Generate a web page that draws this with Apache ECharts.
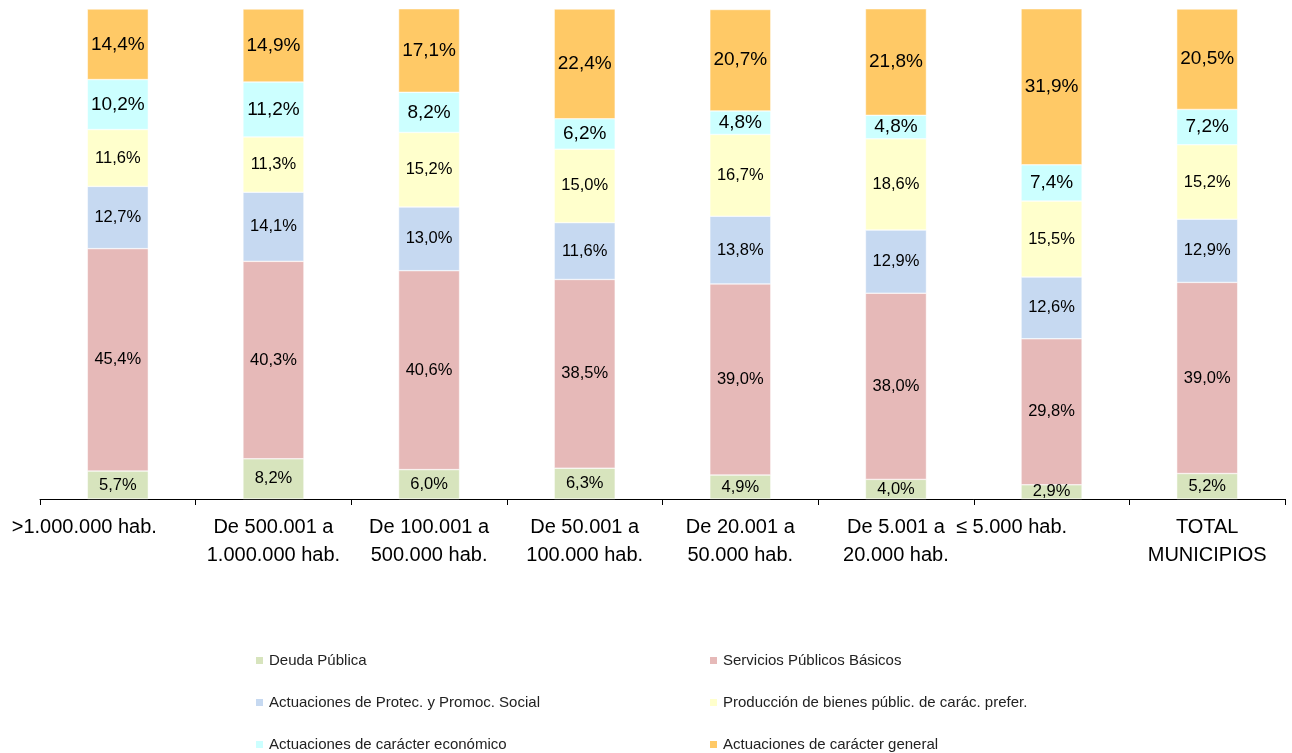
<!DOCTYPE html>
<html>
<head>
<meta charset="utf-8">
<script src="https://cdn.jsdelivr.net/npm/echarts@6/dist/echarts.min.js"></script>
<style>
  html, body { margin: 0; padding: 0; background: #fff; }
  #main { width: 1292px; height: 753px; }
</style>
</head>
<body>
<div id="main"></div>
<script>
var categorias = ['>1.000.000 hab.', 'De 500.001 a\n1.000.000 hab.', 'De 100.001 a\n500.000 hab.', 'De 50.001 a\n100.000 hab.',
    'De 20.001 a\n50.000 hab.', 'De 5.001 a\n20.000 hab.', '≤ 5.000 hab.', 'TOTAL\nMUNICIPIOS'];

var deuda = [5.7, 8.2, 6.0, 6.3, 4.9, 4.0, 2.9, 5.2];
var servicios = [45.4, 40.3, 40.6, 38.5, 39.0, 38.0, 29.8, 39.0];
var protec = [12.7, 14.1, 13.0, 11.6, 13.8, 12.9, 12.6, 12.9];
var produccion = [11.6, 11.3, 15.2, 15.0, 16.7, 18.6, 15.5, 15.2];
var economico = [10.2, 11.2, 8.2, 6.2, 4.8, 4.8, 7.4, 7.2];
var general = [14.4, 14.9, 17.1, 22.4, 20.7, 21.8, 31.9, 20.5];

(function () {
    'use strict';
    var myChart = echarts.init(document.getElementById('main'));

    function pct(p) {
        return p.value.toFixed(1).replace('.', ',') + '%';
    }

    function serie(nombre, datos, color, tam) {
        return {
            name: nombre,
            type: 'bar',
            stack: 'total',
            data: datos,
            barWidth: 61,
            itemStyle: { color: color, borderColor: '#ffffff', borderWidth: 0.5 },
            label: {
                show: true,
                position: 'inside',
                fontSize: tam,
                color: '#000',
                fontFamily: 'Liberation Sans, Arial, sans-serif',
                formatter: pct
            }
        };
    }

    // etiquetas del eje, las dos descentradas como en el original
    var ejeDatos = categorias.map(function (c, i) {
        if (i === 0) return { value: c, textStyle: { padding: [0, 67, 0, 0] } };
        if (i === 6) return { value: c, textStyle: { padding: [0, 80, 0, 0] } };
        return c;
    });

    var leyendaBase = {
        orient: 'vertical',
        top: 653,
        padding: 0,
        itemWidth: 9,
        itemHeight: 9,
        itemGap: 27,
        icon: 'rect',
        selectedMode: false,
        textStyle: { fontSize: 15, color: '#222', fontFamily: 'Liberation Sans, Arial, sans-serif' }
    };

    var option = {
        animation: false,
        grid: { left: 40, right: 7, top: 9, bottom: 254 },
        legend: [
            Object.assign({}, leyendaBase, {
                left: 254,
                data: ['Deuda Pública', 'Actuaciones de Protec. y Promoc. Social', 'Actuaciones de carácter económico']
            }),
            Object.assign({}, leyendaBase, {
                left: 708,
                data: ['Servicios Públicos Básicos', 'Producción de bienes públic. de carác. prefer.', 'Actuaciones de carácter general']
            })
        ],
        xAxis: {
            type: 'category',
            data: ejeDatos,
            axisLine: { lineStyle: { color: '#000', width: 1 } },
            axisTick: { show: true, length: 6, lineStyle: { color: '#000' } },
            axisLabel: {
                interval: 0,
                margin: 14,
                fontSize: 20,
                lineHeight: 28,
                color: '#000',
                fontFamily: 'Liberation Sans, Arial, sans-serif'
            }
        },
        yAxis: {
            type: 'value',
            min: 0,
            max: 100,
            show: false
        },
        series: [
            serie('Deuda Pública', deuda, '#D7E4BD', 16.5),
            serie('Servicios Públicos Básicos', servicios, '#E6B9B8', 16.5),
            serie('Actuaciones de Protec. y Promoc. Social', protec, '#C6D9F1', 16.5),
            serie('Producción de bienes públic. de carác. prefer.', produccion, '#FFFFCC', 16.5),
            serie('Actuaciones de carácter económico', economico, '#CCFFFF', 19),
            serie('Actuaciones de carácter general', general, '#FFC966', 19)
        ]
    };
    myChart.setOption(option);
    window.addEventListener('resize', function () {
        myChart.resize();
    });
})();
</script>
</body>
</html>
